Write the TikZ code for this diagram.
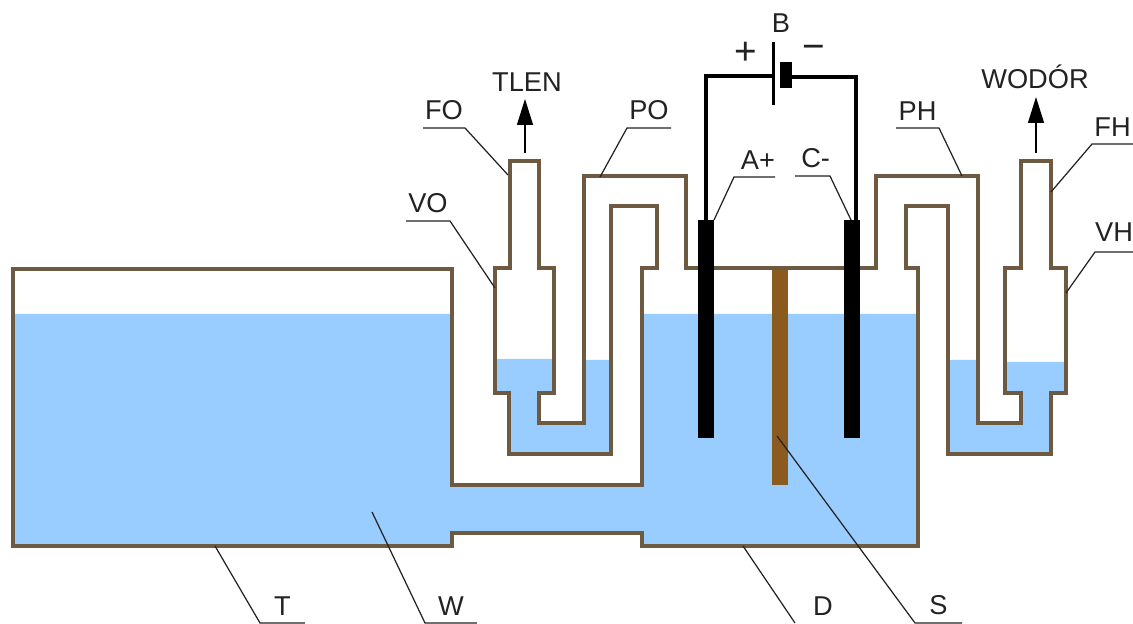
\documentclass[tikz,border=0pt]{standalone}
\usepackage{fontspec}
\setmainfont{Liberation Sans}
\usepackage{tikz}
\usetikzlibrary{arrows.meta}
\definecolor{wallbrown}{HTML}{6E5A40}
\definecolor{waterblue}{HTML}{99CCFF}
\definecolor{barbrown}{HTML}{8B5A1E}
\definecolor{inkgray}{HTML}{222222}
\tikzset{
  vessel/.style={line width=2pt,draw=wallbrown,line join=miter},
  water/.style={fill=waterblue},
  electrode/.style={fill=black},
  wire/.style={line width=1.9pt,line join=miter},
  leader/.style={line width=0.7pt,draw=inkgray},
  lbl/.style={anchor=south,inner xsep=0pt,inner ysep=4.5pt,outer sep=0pt,align=center,
    font=\fontsize{15.5}{15.5}\selectfont,text=inkgray},
  gas/.style={-{Triangle[length=0.52cm,width=0.32cm]},line width=0.8pt},
  sign/.style={font=\fontsize{22}{22}\selectfont,text=inkgray},
}
\begin{document}
\begin{tikzpicture}[x=0.02cm,y=-0.02cm]
  \useasboundingbox (0,0) rectangle (1133,624);
  % water in tank, channel and cell
  \fill[water] (13,314) -- (452,314) -- (452,485) -- (642,485) -- (642,314) -- (918,314)
    -- (918,546) -- (642,546) -- (642,533) -- (452,533) -- (452,546) -- (13,546) -- cycle;
  % water in the two traps
  \fill[water] (495,359) -- (554,359) -- (554,393) -- (539,393) -- (539,423) -- (584,423)
    -- (584,360) -- (611,360) -- (611,454) -- (509,454) -- (509,393) -- (495,393) -- cycle;
  \fill[water] (948,360) -- (978,360) -- (978,423) -- (1021,423) -- (1021,393) -- (1005,393)
    -- (1005,362) -- (1066,362) -- (1066,393) -- (1051,393) -- (1051,454) -- (948,454) -- cycle;
  % separator
  \fill[barbrown] (772,268) rectangle (788,485);
  % vessel wall, one closed line
  \draw[vessel] (13,269) -- (452,269) -- (452,485) -- (642,485) -- (642,268) -- (657,268)
    -- (657,206) -- (611,206) -- (611,454) -- (509,454) -- (509,393) -- (495,393) -- (495,268)
    -- (510,268) -- (510,161) -- (539,161) -- (539,268) -- (554,268) -- (554,393) -- (539,393)
    -- (539,423) -- (584,423) -- (584,176) -- (686,176) -- (686,268) -- (876,268) -- (876,176)
    -- (978,176) -- (978,423) -- (1021,423) -- (1021,393) -- (1005,393) -- (1005,268) -- (1021,268)
    -- (1021,161) -- (1051,161) -- (1051,268) -- (1066,268) -- (1066,393) -- (1051,393) -- (1051,454)
    -- (948,454) -- (948,206) -- (906,206) -- (906,268) -- (918,268) -- (918,546) -- (642,546)
    -- (642,533) -- (452,533) -- (452,546) -- (13,546) -- cycle;
  % electrodes
  \fill[electrode] (698,220) rectangle (714,438);
  \fill[electrode] (844,220) rectangle (860,438);
  \coordinate (anode) at (706,220);
  \coordinate (cathode) at (856,220);
  % battery
  \coordinate (plus) at (773,76);
  \coordinate (minus) at (786,77);
  \draw[wire] (anode) -- (706,76) -- (plus);
  \draw[wire] (minus) -- (856,77) -- (cathode);
  \draw[line width=1.7pt] (773,42) -- (773,105);
  \fill (780,62) rectangle (792,88);
  \node[lbl,anchor=center] (batt) at (781,23) {B};
  \node[sign] (pos) at (746,53) {+};
  \node[sign] (neg) at (814,52) {−};
  % gas outlets
  \node[lbl] (tlen) at (527,99) {TLEN};
  \coordinate (tlenb) at (525,153);
  \draw[gas] (tlenb) -- (tlenb |- tlen.south);
  \node[lbl] (wodor) at (1035,97) {WODÓR};
  \coordinate (wodorb) at (1036,153);
  \draw[gas] (wodorb) -- (wodorb |- wodor.south);
  % leaders, upper labels
  \node[lbl,minimum width=0.84cm] (fo) at (444,128) {FO};
  \coordinate (fot) at (508,175);
  \draw[leader] (fo.south west) -- (fo.south east) -- (fot);
  \node[lbl,minimum width=0.88cm] (vo) at (428,221) {VO};
  \coordinate (vot) at (495,288);
  \draw[leader] (vo.south west) -- (vo.south east) -- (vot);
  \node[lbl,minimum width=0.88cm] (po) at (649,128) {PO};
  \coordinate (pot) at (600,177);
  \draw[leader] (po.south east) -- (po.south west) -- (pot);
  \node[lbl,text width=0.82cm,align=right] (ap) at (754.5,177) {A+};
  \coordinate (apt) at (714,220);
  \draw[leader] (ap.south east) -- (ap.south west) -- (apt);
  \node[lbl,text width=0.7cm,align=right] (cm) at (812.5,176) {C-};
  \coordinate (cmt) at (851,220);
  \draw[leader] (cm.south west) -- (cm.south east) -- (cmt);
  \node[lbl,minimum width=0.86cm] (ph) at (917.5,128) {PH};
  \coordinate (pht) at (962,176);
  \draw[leader] (ph.south west) -- (ph.south east) -- (pht);
  \node[lbl,minimum width=0.82cm] (fh) at (1112.5,144) {FH};
  \coordinate (fht) at (1051,192);
  \draw[leader] (fh.south east) -- (fh.south west) -- (fht);
  \node[lbl,minimum width=0.76cm,inner ysep=6pt] (vh) at (1114,252) {VH};
  \coordinate (vht) at (1066,293);
  \draw[leader] (vh.south east) -- (vh.south west) -- (vht);
  % leaders, lower labels
  \node[lbl,minimum width=0.9cm] (tank) at (282.5,623) {T};
  \coordinate (tankt) at (215,546);
  \draw[leader] (tank.south east) -- (tank.south west) -- (tankt);
  \node[lbl,minimum width=1.04cm] (wat) at (451,623) {W};
  \coordinate (watt) at (372,512);
  \draw[leader] (wat.south east) -- (wat.south west) -- (watt);
  \node[lbl,minimum width=1.12cm] (dno) at (823,623) {D};
  \coordinate (dnot) at (743,546);
  \draw[leader] (dno.south west) -- (dnot);
  \node[lbl,minimum width=0.94cm] (sep) at (938.5,623) {S};
  \coordinate (sept) at (777,436);
  \draw[leader] (sep.south east) -- (sep.south west) -- (sept);
\end{tikzpicture}
\end{document}
